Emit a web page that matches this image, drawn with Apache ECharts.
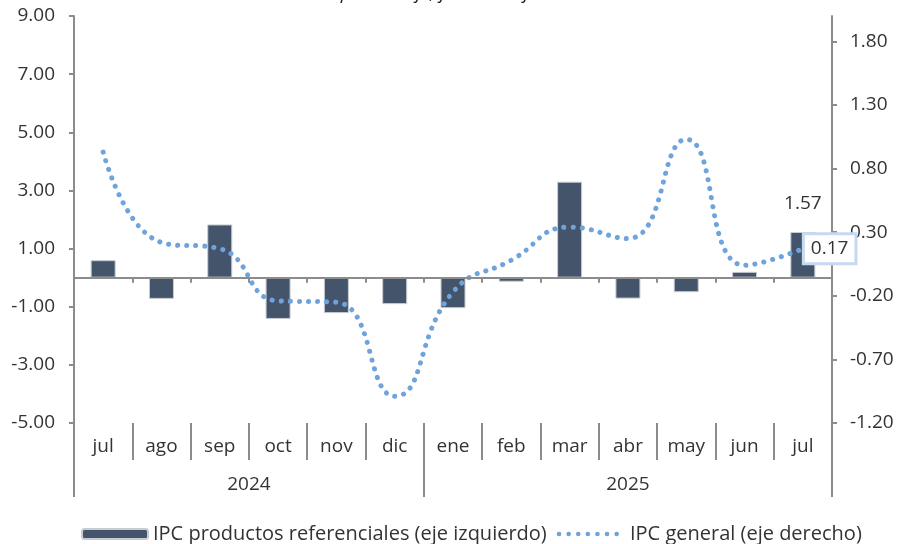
<!DOCTYPE html>
<html>
<head>
<meta charset="utf-8">
<script src="https://cdn.jsdelivr.net/npm/echarts@6/dist/echarts.min.js"></script>
<style>
  html, body { margin: 0; padding: 0; background: #fff; }
  #chart { width: 906px; height: 544px; }
</style>
</head>
<body>
<div id="chart"></div>
<script>
// IPC productos referenciales vs IPC general, jul.2024 - jul.2025
const months = ['jul', 'ago', 'sep', 'oct', 'nov', 'dic', 'ene', 'feb', 'mar', 'abr', 'may', 'jun', 'jul']
const years = ['2024', '2025']
const yearSpans = [6, 7]            // months under each year
const ipcProductos = [0.60, -0.73, 1.83, -1.42, -1.22, -0.91, -1.05, -0.14, 3.30, -0.72, -0.50, 0.20, 1.57]
const ipcGeneral = [0.93, 0.22, 0.17, -0.24, -0.25, -0.99, -0.17, 0.08, 0.34, 0.25, 1.03, 0.04, 0.17]
const leftTicks = [-5, -3, -1, 1, 3, 5, 7, 9]
const rightTicks = [-1.2, -0.7, -0.2, 0.3, 0.8, 1.3, 1.8]

const FONT = 'Open Sans'
const FS = 19
const GREY = '#8c8c8c'
const TXT = '#333'
const LINE_BLUE = '#6fa3dc'
const last = months.length - 1

// year boundaries and centres on a 0..n scale
const yearEdges = [0]
yearSpans.forEach(s => yearEdges.push(yearEdges[yearEdges.length - 1] + s))
const yearCentres = years.map((y, i) => (yearEdges[i] + yearEdges[i + 1]) / 2)

const chart = echarts.init(document.getElementById('chart'), null, { renderer: 'canvas' })

chart.setOption({
  backgroundColor: '#fff',
  animation: false,
  textStyle: { fontFamily: FONT },
  title: {
    text: 'En porcentaje, jul.2024 / jul.2025',
    left: 'center',
    top: -21,
    textStyle: { fontFamily: FONT, fontSize: FS, fontStyle: 'italic', fontWeight: 'normal', color: '#222' },
  },
  legend: {
    left: 76,
    top: 519,
    itemWidth: 66,
    itemHeight: 10,
    itemGap: 10,
    textStyle: { fontFamily: FONT, fontSize: 20, color: TXT },
    data: [
      { name: 'IPC productos referenciales (eje izquierdo)' },
      {
        name: 'IPC general (eje derecho)',
        itemStyle: { opacity: 0 },
        lineStyle: { width: 4.5, type: [0.1, 9.5], cap: 'round' },
      },
    ],
  },
  grid: { left: 74, right: 74, top: 16, bottom: 121 },
  xAxis: [
    {
      // zero line with small ticks
      type: 'category',
      data: months,
      position: 'bottom',
      z: 5,
      axisLine: { onZero: true, onZeroAxisIndex: 0, lineStyle: { color: GREY, width: 2 } },
      axisTick: { show: true, length: 5, lineStyle: { color: GREY, width: 2 } },
      axisLabel: { show: false },
    },
    {
      // month labels
      type: 'category',
      data: months,
      position: 'bottom',
      axisLine: { show: false, onZero: false },
      axisTick: { show: true, length: 37, interval: 0, lineStyle: { color: GREY, width: 2 } },
      axisLabel: { interval: 0, margin: 14, fontFamily: FONT, fontSize: FS, color: TXT },
    },
    {
      // year labels
      type: 'value',
      min: 0,
      max: months.length,
      position: 'bottom',
      splitLine: { show: false },
      axisLine: { show: false, onZero: false },
      axisTick: { show: true, length: 74, customValues: yearEdges, lineStyle: { color: GREY, width: 2 } },
      axisLabel: {
        customValues: yearCentres,
        margin: 52,
        fontFamily: FONT, fontSize: FS, color: TXT,
        formatter: v => years[yearCentres.indexOf(v)] || '',
      },
    },
  ],
  yAxis: [
    {
      type: 'value',
      min: -5,
      max: 9,
      interval: 2,
      position: 'left',
      splitLine: { show: false },
      axisLine: { show: true, lineStyle: { color: GREY, width: 2 } },
      axisTick: { show: true, length: 5, customValues: leftTicks, lineStyle: { color: GREY, width: 2 } },
      axisLabel: { customValues: leftTicks, margin: 19, fontFamily: FONT, fontSize: FS, color: TXT, formatter: v => v.toFixed(2) },
    },
    {
      type: 'value',
      min: -1.2,
      max: 2.0,
      position: 'right',
      splitLine: { show: false },
      axisLine: { show: true, lineStyle: { color: GREY, width: 2 } },
      axisTick: { show: true, length: 5, customValues: rightTicks, lineStyle: { color: GREY, width: 2 } },
      axisLabel: { customValues: rightTicks, margin: 18, fontFamily: FONT, fontSize: FS, color: TXT, formatter: v => v.toFixed(2) },
    },
  ],
  series: [
    {
      name: 'IPC productos referenciales (eje izquierdo)',
      type: 'bar',
      xAxisIndex: 0,
      yAxisIndex: 0,
      data: ipcProductos,
      barWidth: 25,
      itemStyle: { color: '#44546a', borderColor: '#c8ccd2', borderWidth: 1 },
      label: {
        show: true,
        position: 'top',
        distance: 19,
        fontFamily: FONT, fontSize: FS, color: TXT,
        formatter: p => (p.dataIndex === last ? p.value.toFixed(2) : ''),
      },
    },
    {
      name: 'IPC general (eje derecho)',
      type: 'line',
      xAxisIndex: 0,
      yAxisIndex: 1,
      data: ipcGeneral,
      smooth: true,
      symbol: 'none',
      z: 4,
      lineStyle: { color: LINE_BLUE, width: 5, type: [0.1, 9], cap: 'round' },
      itemStyle: { color: LINE_BLUE },
      endLabel: {
        show: true,
        distance: 2,
        fontFamily: FONT, fontSize: FS, color: TXT,
        backgroundColor: '#fff',
        borderColor: '#c5d9f1',
        borderWidth: 3,
        padding: [5, 6, 3, 6],
        formatter: p => p.value.toFixed(2),
      },
    },
  ],
})
</script>
</body>
</html>
